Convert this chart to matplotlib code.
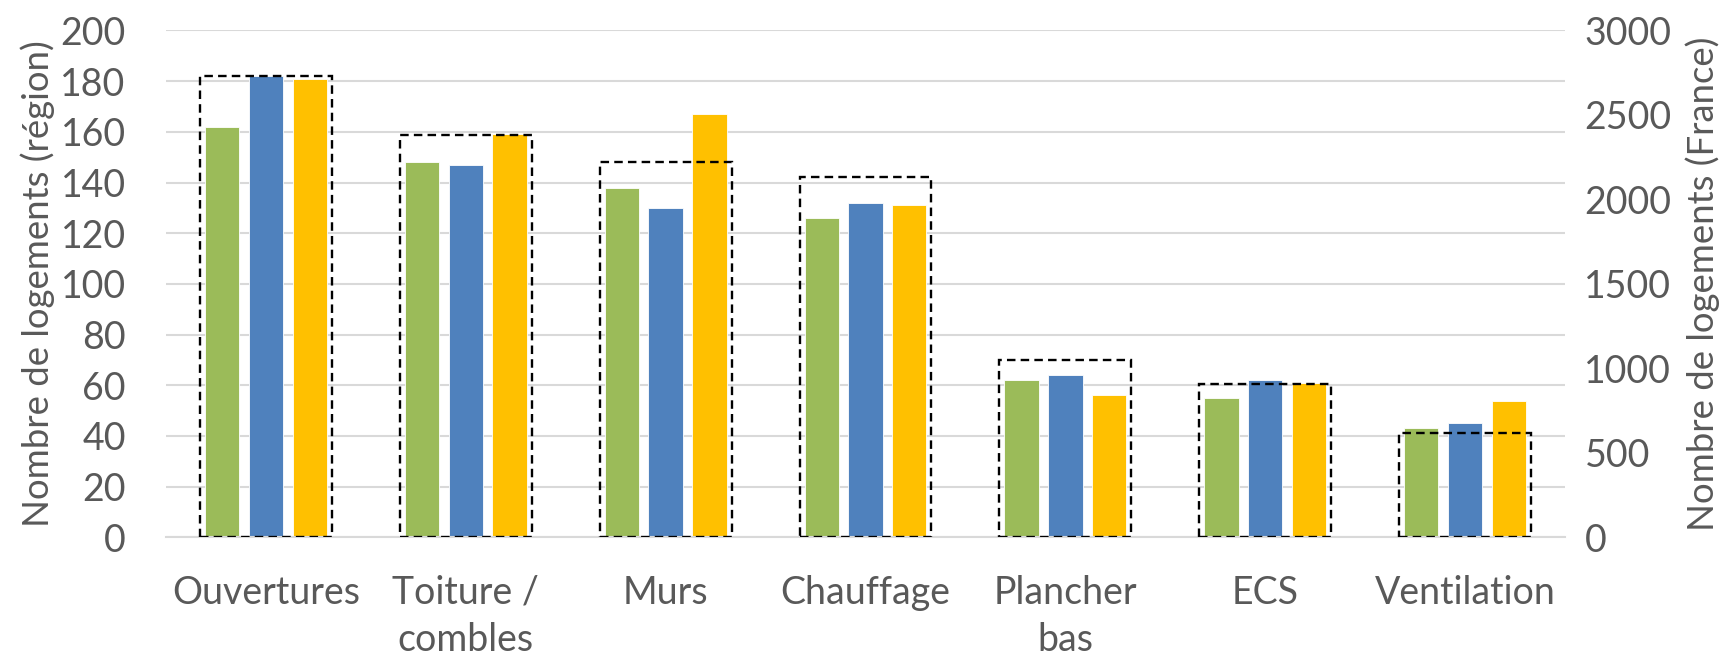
import numpy as np
import matplotlib
matplotlib.use("Agg")
import matplotlib.pyplot as plt

plt.rcParams['font.family'] = ['Lato', 'DejaVu Sans']

categories = ["Ouvertures", "Toiture /\ncombles", "Murs", "Chauffage", "Plancher\nbas", "ECS", "Ventilation"]
serie_verte = [162, 148, 138, 126, 62, 55, 43]
serie_bleue = [182, 147, 130, 132, 64, 62, 45]
serie_jaune = [181, 159, 167, 131, 56, 61, 54]
france = [2730, 2380, 2220, 2130, 1050, 910, 620]

text_color = '#595959'
grid_color = '#D9D9D9'

fig = plt.figure(figsize=(17.31, 6.61), dpi=100)
ax = fig.add_axes([0.0959, 0.187, 0.8082, 0.767])
ax2 = ax.twinx()

x = np.arange(len(categories))
w = 0.172
step = 0.219

ax.bar(x - step, serie_verte, w, color='#9BBB59', edgecolor='white', linewidth=0.6, zorder=2)
ax.bar(x, serie_bleue, w, color='#4F81BD', edgecolor='white', linewidth=0.6, zorder=2)
ax.bar(x + step, serie_jaune, w, color='#FFC000', edgecolor='white', linewidth=0.6, zorder=2)

# France: dashed outline on the secondary axis
ax2.bar(x, france, 0.66, facecolor='none', edgecolor='black', linewidth=1.7,
        linestyle=(0, (3.6, 2.2)), zorder=3)

ax.set_xlim(-0.5, len(categories) - 0.5)
ax.set_ylim(0, 200)
ax.set_yticks(np.arange(0, 201, 20))
ax2.set_ylim(0, 3000)
ax2.set_yticks(np.arange(0, 3001, 500))

ax.grid(axis='y', color=grid_color, linewidth=1.5, zorder=0)
ax.set_axisbelow(True)

for a in (ax, ax2):
    for s in a.spines.values():
        s.set_visible(False)
    a.tick_params(length=0, labelsize=27, labelcolor=text_color)
ax.spines['bottom'].set_visible(True)
ax.spines['bottom'].set_color(grid_color)
ax.spines['bottom'].set_linewidth(1.5)

ax.set_xticks(x)
ax.set_xticklabels(categories, linespacing=1.4)
ax.tick_params(axis='x', pad=27)
ax.tick_params(axis='y', pad=29)
ax2.tick_params(axis='y', pad=14)

ax.set_ylabel("Nombre de logements (région)", fontsize=26.3, color=text_color, labelpad=4)
ax2.set_ylabel("Nombre de logements (France)", fontsize=26.3, color=text_color, labelpad=10)

fig.savefig("out.png", dpi=100)
